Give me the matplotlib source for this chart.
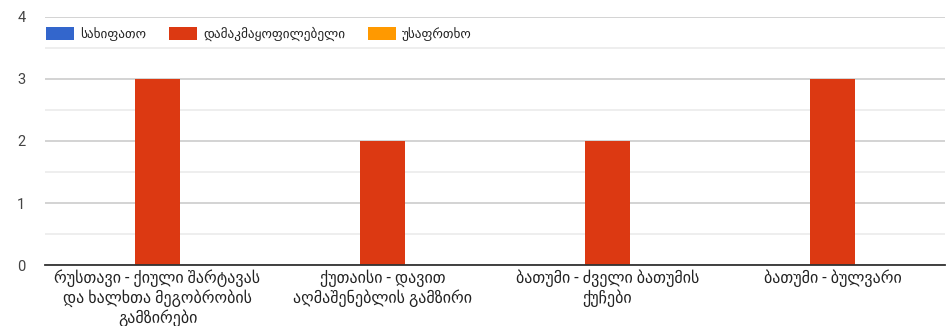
import matplotlib
matplotlib.use("Agg")
import matplotlib.pyplot as plt
import numpy as np

plt.rcParams['font.family'] = ['Roboto', 'DejaVu Sans']

# data
categories = [
    "რუსთავი - ქიული შარტავას\nდა ხალხთა მეგობრობის\nგამზირები",
    "ქუთაისი - დავით\nაღმაშენებლის გამზირი",
    "ბათუმი - ძველი ბათუმის\nქუჩები",
    "ბათუმი - ბულვარი",
]
series_names = ["სახიფათო", "დამაკმაყოფილებელი", "უსაფრთხო"]
dangerous = [0, 0, 0, 0]
satisfactory = [3, 2, 2, 3]
safe = [0, 0, 0, 0]
colors = ["#3366cc", "#dc3912", "#ff9900"]

fig = plt.figure(figsize=(9.49, 3.26), dpi=100)
ax = fig.add_axes([0.0474, 0.187, 0.9484, 0.761])

x = np.arange(len(categories))
w = 0.2
for k, (vals, name, c) in enumerate(zip([dangerous, satisfactory, safe], series_names, colors)):
    ax.bar(x + (k - 1) * w, vals, w, color=c, label=name, zorder=3)

ax.set_xlim(-0.5, len(categories) - 0.5)
ax.set_ylim(0, 4)
ax.set_yticks([0, 1, 2, 3, 4])
ax.set_yticks(np.arange(0.5, 4, 1), minor=True)
ax.grid(axis='y', which='major', color='#cccccc', linewidth=1.2, zorder=0)
ax.grid(axis='y', which='minor', color='#ebebeb', linewidth=1.2, zorder=0)
ax.tick_params(axis='y', which='both', length=0, pad=14, labelsize=10.5, labelcolor='#444444')
ax.tick_params(axis='x', length=0, pad=3, labelsize=11.5, labelcolor='#222222')
ax.set_xticks(x)
ax.set_xticklabels(categories, linespacing=1.18)
for s in ['top', 'right', 'left']:
    ax.spines[s].set_visible(False)
ax.spines['bottom'].set_color('#333333')
ax.spines['bottom'].set_linewidth(1.3)
ax.spines['bottom'].set_zorder(4)

leg = ax.legend(loc='upper left', bbox_to_anchor=(-0.003, 0.975), ncol=3, frameon=True,
                facecolor='white', edgecolor='none', framealpha=1,
                fontsize=9.5, handlelength=2.1, handleheight=1.15, columnspacing=1.7,
                handletextpad=0.5, borderaxespad=0, borderpad=0.3)
leg.set_zorder(5)
for t in leg.get_texts():
    t.set_color('#222222')

fig.savefig("out.png", dpi=100)
